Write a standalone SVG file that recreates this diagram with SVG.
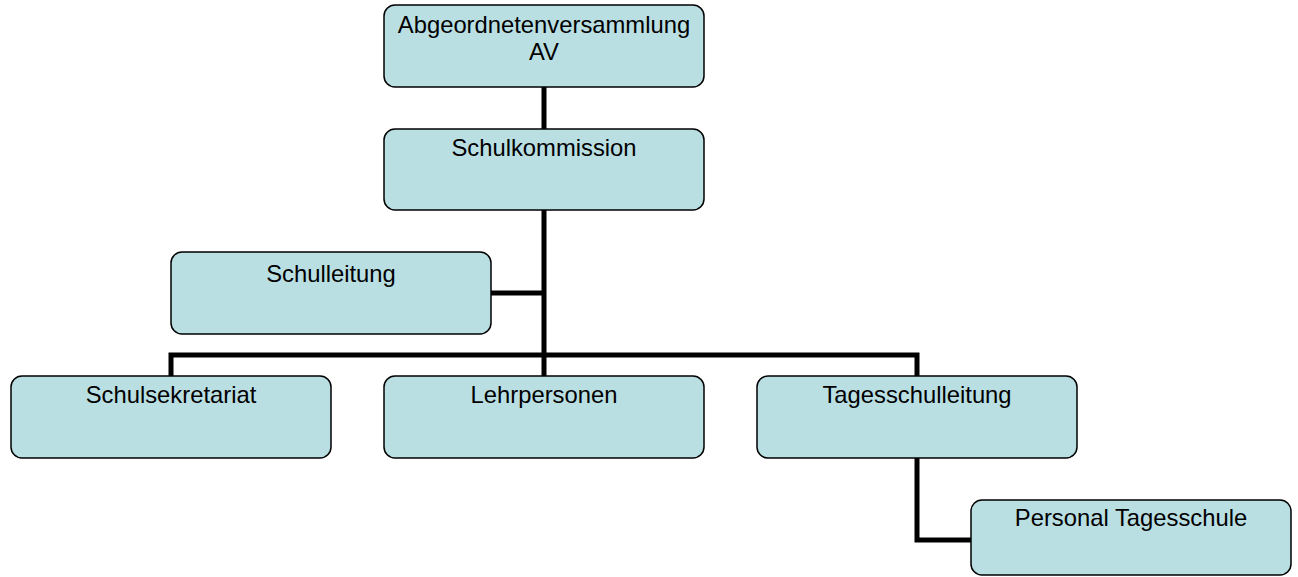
<svg xmlns="http://www.w3.org/2000/svg" width="1298" height="577" viewBox="0 0 1298 577">
<style>
.box{fill:#b9dfe3;stroke:#000;stroke-width:1.5}
.t{font-family:"Liberation Sans",Arial,sans-serif;font-size:23.8px;fill:#000;text-anchor:middle}
.c{fill:none;stroke:#000;stroke-width:5;stroke-linejoin:miter}
</style>
<rect width="1298" height="577" fill="#fff"/>
<g id="connectors">
<path class="c" d="M544 87V129"/>
<path class="c" d="M544 210V355"/>
<path class="c" d="M491 293H544"/>
<path class="c" d="M171 376V355H917V376"/>
<path class="c" d="M544 355V376"/>
<path class="c" d="M917 458V540H971"/>
</g>
<g id="av"><rect class="box" x="384" y="5" width="320" height="82" rx="11"/><text class="t" x="544" y="33">Abgeordnetenversammlung</text><text class="t" x="544" y="60">AV</text></g>
<g id="schulkommission"><rect class="box" x="384" y="129" width="320" height="81" rx="11"/><text class="t" x="544" y="156">Schulkommission</text></g>
<g id="schulleitung"><rect class="box" x="171" y="252" width="320" height="82" rx="11"/><text class="t" x="331" y="282">Schulleitung</text></g>
<g id="schulsekretariat"><rect class="box" x="11" y="376" width="320" height="82" rx="11"/><text class="t" x="171" y="403">Schulsekretariat</text></g>
<g id="lehrpersonen"><rect class="box" x="384" y="376" width="320" height="82" rx="11"/><text class="t" x="544" y="403">Lehrpersonen</text></g>
<g id="tagesschulleitung"><rect class="box" x="757" y="376" width="320" height="82" rx="11"/><text class="t" x="917" y="403">Tagesschulleitung</text></g>
<g id="personal"><rect class="box" x="971" y="500" width="320" height="75" rx="11"/><text class="t" x="1131" y="526">Personal Tagesschule</text></g>
</svg>
